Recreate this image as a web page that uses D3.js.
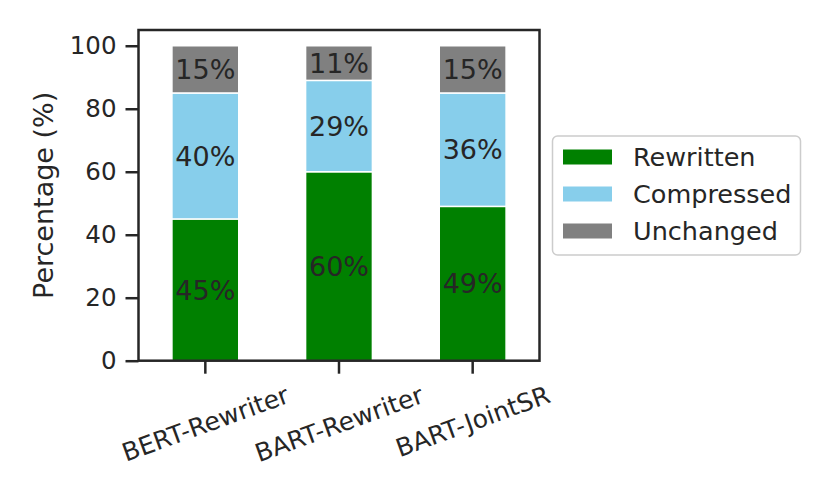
<!DOCTYPE html>
<html>
<head>
<meta charset="utf-8">
<script src="https://cdn.jsdelivr.net/npm/d3@7"></script>
<style>
  body { margin: 0; background: #fff; }
  text { font-family: "DejaVu Sans", sans-serif; fill: #262626; }
</style>
</head>
<body>
<svg id="chart" width="830" height="498"></svg>
<script>
const models = ['BERT-Rewriter', 'BART-Rewriter', 'BART-JointSR'];
const rewritten = [45, 60, 49];
const compressed = [40, 29, 36];
const unchanged = [15, 11, 15];
const seriesNames = ['Rewritten', 'Compressed', 'Unchanged'];
const seriesColors = ['#008000', '#87ceeb', '#808080'];
const yTicks = [0, 20, 40, 60, 80, 100];

const rows = models.map((m, i) => ({
  model: m,
  Rewritten: rewritten[i],
  Compressed: compressed[i],
  Unchanged: unchanged[i]
}));

const plotLeft = 138.5, plotRight = 539.5, plotTop = 30, plotBottom = 360.7;
const ink = '#262626';

const svg = d3.select('#chart');

const x = d3.scaleBand()
  .domain(models)
  .range([plotLeft, plotRight])
  .paddingInner(0.5)
  .paddingOuter(0.25);

const y = d3.scaleLinear().domain([0, 105]).range([plotBottom, plotTop]);

const color = d3.scaleOrdinal().domain(seriesNames).range(seriesColors);

const stacked = d3.stack().keys(seriesNames)(rows);

// bars
const layers = svg.append('g')
  .selectAll('g')
  .data(stacked)
  .enter()
  .append('g')
  .attr('fill', (d) => color(d.key));

layers.selectAll('rect')
  .data((d) => d)
  .enter()
  .append('rect')
  .attr('x', (d) => x(d.data.model))
  .attr('y', (d) => y(d[1]))
  .attr('width', x.bandwidth())
  .attr('height', (d) => y(d[0]) - y(d[1]))
  .attr('stroke', 'white')
  .attr('stroke-width', 1.5);

// bar labels
layers.selectAll('text')
  .data((d) => d)
  .enter()
  .append('text')
  .attr('x', (d) => x(d.data.model) + x.bandwidth() / 2)
  .attr('y', (d) => y((d[0] + d[1]) / 2))
  .attr('dy', '0.36em')
  .attr('text-anchor', 'middle')
  .attr('fill', ink)
  .style('font-size', '27px')
  .text((d) => `${d[1] - d[0]}%`);

// y axis
const yAxis = svg.append('g')
  .attr('transform', `translate(${plotLeft},0)`)
  .call(d3.axisLeft(y).tickValues(yTicks).tickSize(13).tickPadding(9));
yAxis.select('.domain').remove();
yAxis.selectAll('line').attr('stroke', ink).attr('stroke-width', 2.5);
yAxis.selectAll('text').style('font-size', '24.5px').style('font-family', 'DejaVu Sans').attr('fill', ink);

// x axis
const xAxis = svg.append('g')
  .attr('transform', `translate(0,${plotBottom})`)
  .call(d3.axisBottom(x).tickSize(13).tickFormat(''));
xAxis.select('.domain').remove();
xAxis.selectAll('line').attr('stroke', ink).attr('stroke-width', 2.5);

// rotated category labels, bbox top-centred under each tick
const rot = 20 * Math.PI / 180;
svg.append('g')
  .selectAll('text')
  .data(models)
  .enter()
  .append('text')
  .style('font-size', '25px')
  .attr('text-anchor', 'middle')
  .attr('dy', '0.36em')
  .text((d) => d)
  .each(function (d) {
    const w = this.getComputedTextLength();
    const h = 25;
    const bh = w * Math.sin(rot) + h * Math.cos(rot);
    const cx = x(d) + x.bandwidth() / 2;
    const cy = plotBottom + 13 + 8 + bh / 2;
    d3.select(this).attr('transform', `translate(${cx},${cy}) rotate(-20)`);
  });

// frame
svg.append('rect')
  .attr('x', plotLeft)
  .attr('y', plotTop)
  .attr('width', plotRight - plotLeft)
  .attr('height', plotBottom - plotTop)
  .attr('fill', 'none')
  .attr('stroke', ink)
  .attr('stroke-width', 2.5);

// y label
svg.append('text')
  .attr('transform', `translate(43,${(plotTop + plotBottom) / 2}) rotate(-90)`)
  .attr('text-anchor', 'middle')
  .attr('dy', '0.36em')
  .style('font-size', '27px')
  .text('Percentage (%)');

// legend
const legend = svg.append('g');
legend.append('rect')
  .attr('x', 552.5)
  .attr('y', 136)
  .attr('width', 248)
  .attr('height', 119)
  .attr('rx', 5)
  .attr('fill', 'white')
  .attr('stroke', '#cccccc')
  .attr('stroke-width', 1.5);

const items = legend.selectAll('g.item')
  .data(seriesNames)
  .enter()
  .append('g')
  .attr('class', 'item')
  .attr('transform', (d, i) => `translate(0,${157 + i * 37})`);

items.append('rect')
  .attr('x', 563)
  .attr('y', -7.5)
  .attr('width', 49)
  .attr('height', 15)
  .attr('fill', (d) => color(d));

items.append('text')
  .attr('x', 633)
  .attr('dy', '0.36em')
  .style('font-size', '25.5px')
  .text((d) => d);
</script>
</body>
</html>
